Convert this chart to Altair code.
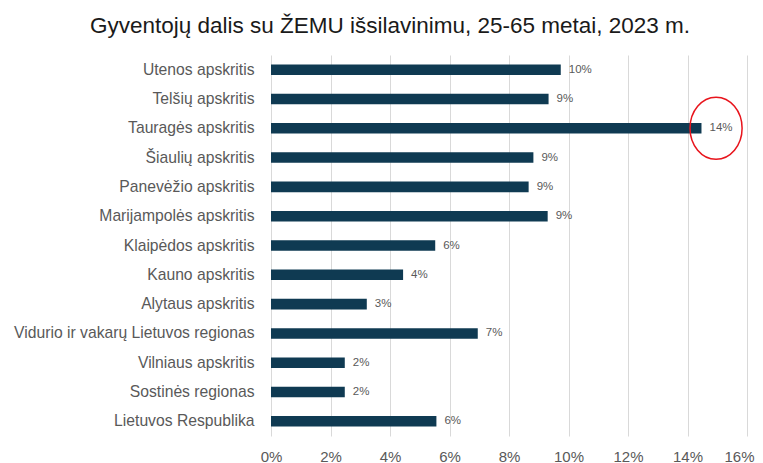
import altair as alt
import pandas as pd

categories = [
    "Utenos apskritis",
    "Telšių apskritis",
    "Tauragės apskritis",
    "Šiaulių apskritis",
    "Panevėžio apskritis",
    "Marijampolės apskritis",
    "Klaipėdos apskritis",
    "Kauno apskritis",
    "Alytaus apskritis",
    "Vidurio ir vakarų Lietuvos regionas",
    "Vilniaus apskritis",
    "Sostinės regionas",
    "Lietuvos Respublika",
]
values = [0.0974, 0.0933, 0.1447, 0.0882, 0.0866, 0.0930, 0.0552,
          0.0444, 0.0322, 0.0695, 0.0248, 0.0248, 0.0556]

# highlighted item (red ellipse around its label)
highlight_category = ["Tauragės apskritis"]
highlight_x = [0.1496]

x_ticks = [0, 0.02, 0.04, 0.06, 0.08, 0.10, 0.12, 0.14, 0.16]

df = pd.DataFrame({"category": categories, "value": values})
hl = pd.DataFrame({"category": highlight_category, "x": highlight_x})

FONT = "Liberation Sans"
GRAY = "#595959"

y_enc = alt.Y(
    "category:N",
    sort=categories,
    scale=alt.Scale(paddingInner=0.64, paddingOuter=0.32),
    axis=alt.Axis(
        title=None, ticks=False, domain=False, labelPadding=17, labelLimit=400,
        labelFont=FONT, labelFontSize=15.7, labelColor=GRAY,
    ),
)
x_enc = alt.X(
    "value:Q",
    scale=alt.Scale(domain=[0, 0.16], nice=False),
    axis=alt.Axis(
        title=None, values=x_ticks, format=".0%", ticks=False, domain=False,
        grid=True, gridColor="#d9d9d9", gridWidth=1, labelPadding=13,
        labelFlush=False,
        labelOffset={"expr": "datum.value >= 0.159 ? -8 : 0"},
        labelFont=FONT, labelFontSize=15, labelColor=GRAY,
    ),
)

bars = alt.Chart(df).mark_bar(color="#0f3a52").encode(x=x_enc, y=y_enc)

labels = alt.Chart(df).mark_text(
    align="left", baseline="middle", dx=8, font=FONT, fontSize=11.5, color=GRAY
).encode(
    x="value:Q",
    y=alt.Y("category:N", sort=categories),
    text=alt.Text("value:Q", format=".0%"),
)

ellipse_path = "M -0.84 0 A 0.84 1 0 1 0 0.84 0 A 0.84 1 0 1 0 -0.84 0 Z"
ring = alt.Chart(hl).mark_point(
    shape=ellipse_path, filled=False, stroke="#e8141c", strokeWidth=1.5,
    size=3844, opacity=1,
).encode(
    x="x:Q",
    y=alt.Y("category:N", sort=categories),
)

chart = (
    alt.layer(bars, labels, ring)
    .properties(
        width=476,
        height=381,
        autosize=alt.AutoSizeParams(type="none"),
        padding={"left": 263, "top": 47, "right": 8, "bottom": 27},
        title=alt.TitleParams(
            "Gyventojų dalis su ŽEMU išsilavinimu, 25-65 metai, 2023 m.",
            font=FONT, fontSize=22.5, fontWeight="normal", color="#1a1a1a",
            anchor="middle", dx=-119, offset=18,
        ),
    )
    .configure_view(stroke=None)
)

chart.save("out.html", embed_options={"renderer": "svg", "actions": False})
